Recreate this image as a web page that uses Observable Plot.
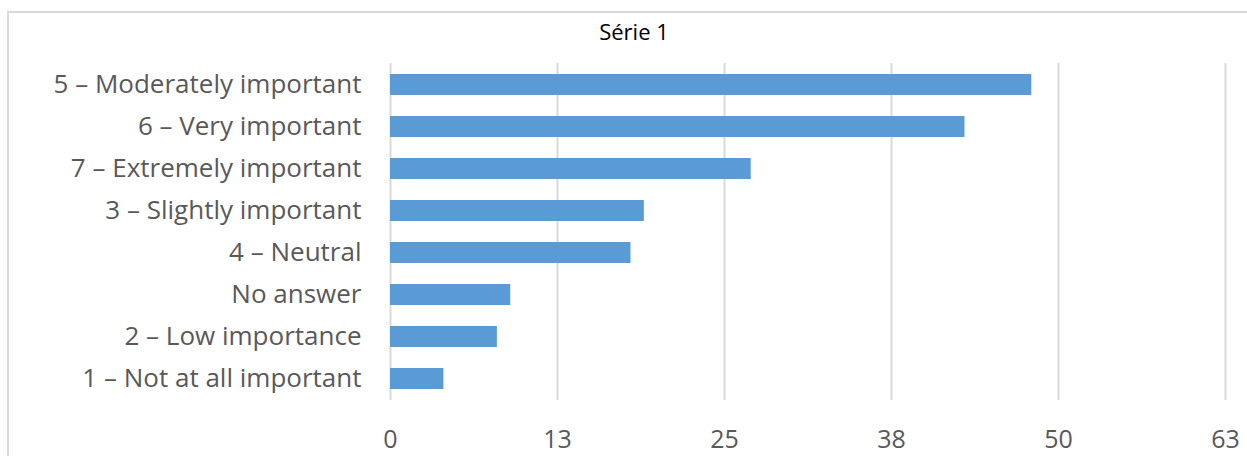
<!DOCTYPE html>
<html>
<head>
<meta charset="utf-8">
<script src="https://cdn.jsdelivr.net/npm/d3@7"></script>
<script src="https://cdn.jsdelivr.net/npm/@observablehq/plot@0.6"></script>
<style>
  html, body { margin: 0; padding: 0; background: #fff; overflow: hidden; }
  #wrap { position: relative; width: 1247px; height: 456px; }
  #frame { position: absolute; left: 7px; top: 11px; width: 1300px; height: 500px;
           border: 2px solid #d9d9d9; box-sizing: border-box; }
  #title { position: absolute; left: 0; top: 0; width: 1268px; height: 50px; line-height: 63px;
           text-align: center; font-family: "Open Sans", sans-serif; font-size: 22px; color: #000; }
  #chart { position: absolute; left: 0; top: 50px; }
</style>
</head>
<body>
<div id="wrap">
  <div id="frame"></div>
  <div id="title">Série 1</div>
  <div id="chart"></div>
</div>
<script>
const categories = [
  "5 – Moderately important",
  "6 – Very important",
  "7 – Extremely important",
  "3 – Slightly important",
  "4 – Neutral",
  "No answer",
  "2 – Low importance",
  "1 – Not at all important"
];
const values = [48, 43, 27, 19, 18, 9, 8, 4];
const tickValues = [0, 12.5, 25, 37.5, 50, 62.5];
const tickLabels = ["0", "13", "25", "38", "50", "63"];

const data = categories.map((c, i) => ({category: c, value: values[i]}));

const chart = Plot.plot({
  width: 1247,
  height: 406,
  marginTop: 13,
  marginBottom: 56,
  marginLeft: 390,
  marginRight: 22,
  style: {fontFamily: "'Open Sans', sans-serif", background: "transparent"},
  x: {domain: [0, 62.5], ticks: tickValues, tickFormat: (d) => tickLabels[tickValues.indexOf(d)]},
  y: {domain: categories, paddingInner: 0.5, paddingOuter: 0.25},
  marks: [
    Plot.gridX(tickValues, {stroke: "#d9d9d9", strokeWidth: 2, strokeOpacity: 1}),
    Plot.barX(data, {x: "value", y: "category", fill: "#5b9bd5"}),
    Plot.axisX(tickValues, {tickSize: 0, tickPadding: 30, fontSize: 25, fill: "#595959", label: null,
      tickFormat: (d) => tickLabels[tickValues.indexOf(d)]}),
    Plot.axisY({tickSize: 0, tickPadding: 29, fontSize: 26, fill: "#595959", label: null})
  ]
});
document.getElementById("chart").appendChild(chart);
</script>
</body>
</html>
